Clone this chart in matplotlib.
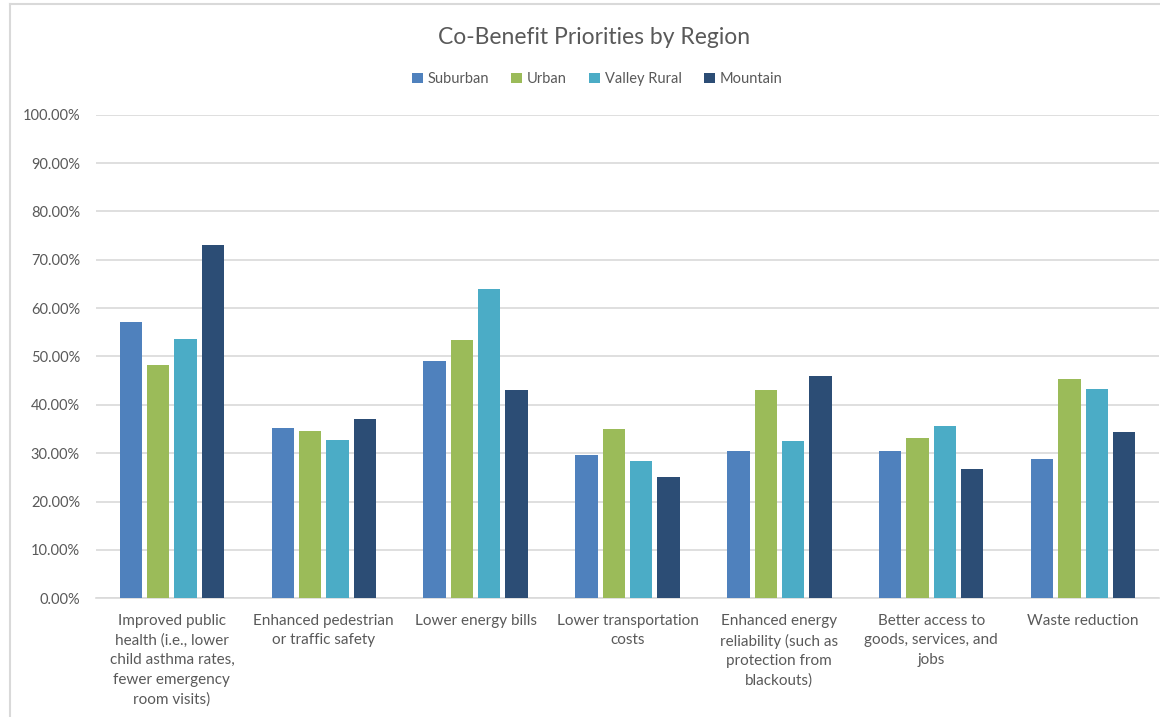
import numpy as np
import matplotlib
matplotlib.use("Agg")
import matplotlib.pyplot as plt
from matplotlib.lines import Line2D
from matplotlib.ticker import PercentFormatter

plt.rcParams['font.family'] = ['Lato', 'DejaVu Sans']

categories = [
    "Improved public\nhealth (i.e., lower\nchild asthma rates,\nfewer emergency\nroom visits)",
    "Enhanced pedestrian\nor traffic safety",
    "Lower energy bills",
    "Lower transportation\ncosts",
    "Enhanced energy\nreliability (such as\nprotection from\nblackouts)",
    "Better access to\ngoods, services, and\njobs",
    "Waste reduction",
]
series_names = ["Suburban", "Urban", "Valley Rural", "Mountain"]
suburban = [0.572, 0.353, 0.491, 0.296, 0.305, 0.305, 0.289]
urban = [0.483, 0.345, 0.534, 0.351, 0.431, 0.332, 0.453]
valley_rural = [0.536, 0.327, 0.640, 0.283, 0.326, 0.356, 0.432]
mountain = [0.731, 0.371, 0.431, 0.250, 0.460, 0.268, 0.343]
colors = ["#4F81BD", "#9BBB59", "#4BACC6", "#2C4D75"]

txt = "#595959"
fig = plt.figure(figsize=(11.6, 7.17), dpi=100)
ax = fig.add_axes([96/1160, 1 - 598.3/717, 1063/1160, (598.3 - 114.7)/717])

x = np.arange(len(categories))
step = 0.18
for i, (vals, name, c) in enumerate(zip([suburban, urban, valley_rural, mountain], series_names, colors)):
    ax.bar(x + (i - 1.5) * step, vals, width=0.147, color=c, label=name, zorder=3)

ax.set_xlim(-0.5, len(categories) - 0.5)
ax.set_ylim(0, 1.0)
ax.set_yticks(np.arange(0, 1.01, 0.1))
ax.yaxis.set_major_formatter(PercentFormatter(1.0, decimals=2))
ax.grid(axis='y', color="#D9D9D9", linewidth=1.2, zorder=0)
ax.set_xticks(x)
ax.set_xticklabels(categories, linespacing=1.5)
ax.tick_params(axis='y', length=0, pad=11.5, labelsize=10.5, labelcolor=txt)
ax.tick_params(axis='x', length=0, pad=11, labelsize=11, labelcolor=txt)
for s in ['top', 'right', 'left']:
    ax.spines[s].set_visible(False)
ax.spines['bottom'].set_color("#D9D9D9")
ax.spines['bottom'].set_linewidth(1.2)

fig.text(594/1160, 1 - 37/717, "Co-Benefit Priorities by Region", ha='center', va='center',
         fontsize=16.5, color=txt)
fig.legend(loc='center', bbox_to_anchor=(597/1160, 1 - 79/717), ncol=4, frameon=False,
           fontsize=10.5, labelcolor=txt, handlelength=0.75, handleheight=0.75,
           handletextpad=0.35, columnspacing=1.5)

# chart frame (top and left edges visible in the crop)
fig.add_artist(Line2D([10/1160, 1], [1 - 4/717, 1 - 4/717], color="#D9D9D9", linewidth=1.5))
fig.add_artist(Line2D([10/1160, 10/1160], [0, 1 - 4/717], color="#D9D9D9", linewidth=1.5))

fig.savefig("out.png", dpi=100)
